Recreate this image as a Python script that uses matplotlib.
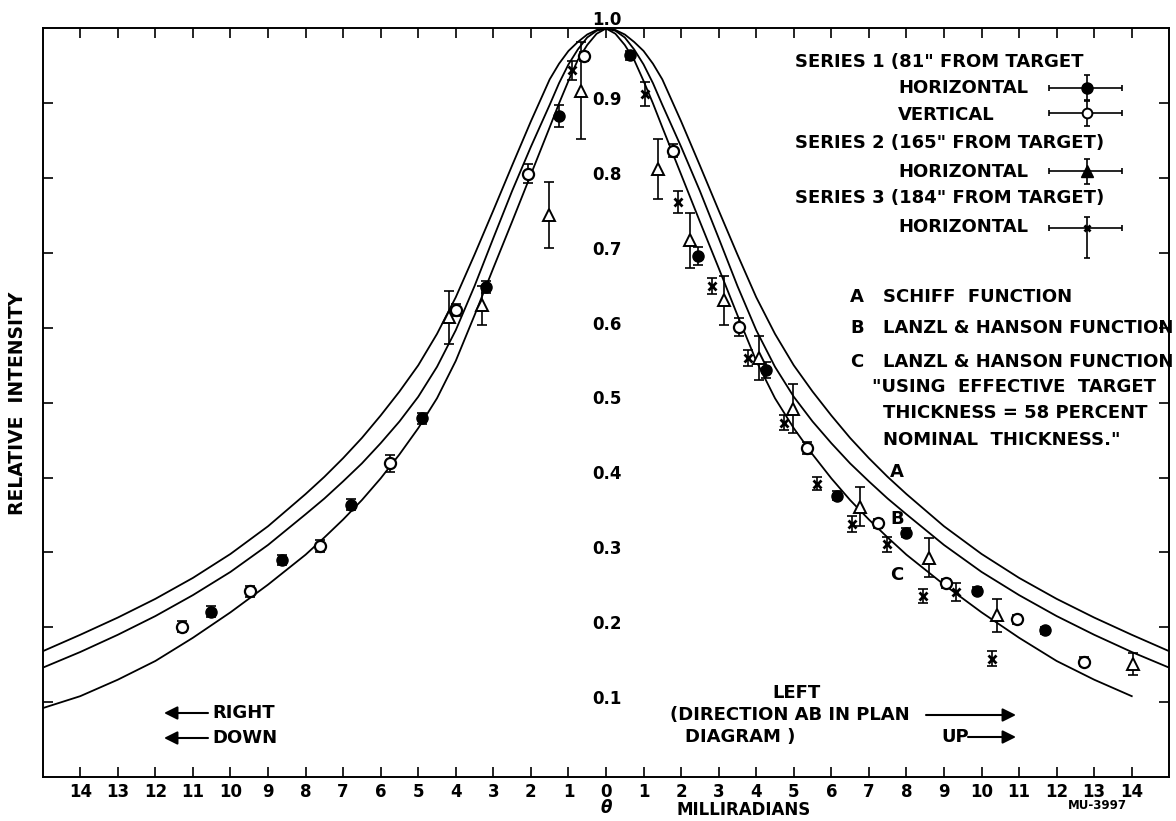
import matplotlib
matplotlib.use("Agg")
import matplotlib.pyplot as plt

# ---------------- data ----------------
# theoretical curves, symmetric in theta (|theta| in milliradians)
curve_t = [0, 0.25, 0.5, 0.75, 1, 1.25, 1.5, 2, 2.5, 3, 3.5, 4, 4.5, 5, 5.5, 6,
           6.5, 7, 7.5, 8, 9, 10, 11, 12, 13, 14, 15]
curve_a = [1.0, 0.998, 0.992, 0.982, 0.97, 0.953, 0.932, 0.876, 0.817, 0.757,
           0.698, 0.641, 0.592, 0.55, 0.515, 0.483, 0.453, 0.426, 0.401, 0.378, 0.335,
           0.298, 0.266, 0.238, 0.213, 0.19, 0.168]
curve_b = [1.0, 0.997, 0.988, 0.972, 0.952, 0.927, 0.898, 0.842, 0.783, 0.72,
           0.656, 0.597, 0.548, 0.508, 0.475, 0.446, 0.419, 0.395, 0.372, 0.351, 0.31,
           0.274, 0.243, 0.215, 0.19, 0.167, 0.146]
curve_c = [1.0, 0.993, 0.978, 0.958, 0.93, 0.9, 0.868, 0.805, 0.742, 0.68,
           0.617, 0.556, 0.506, 0.466, 0.431, 0.399, 0.37, 0.344, 0.32, 0.297, 0.257,
           0.22, 0.186, 0.155, 0.13, 0.108, 0.092]
curve_c_right_end = 14

# Series 1 horizontal (filled circles)
s1h_x = [-10.51, -8.63, -6.80, -4.91, -3.19, -1.25, 0.63, 2.45, 4.27, 6.15, 8.0, 9.87, 11.69]
s1h_y = [0.221, 0.290, 0.364, 0.479, 0.655, 0.883, 0.964, 0.696, 0.544, 0.376, 0.326, 0.249, 0.196]
s1h_e = [0.007, 0.007, 0.007, 0.007, 0.008, 0.015, 0.006, 0.012, 0.011, 0.006, 0.006, 0.005, 0.005]

# Series 1 vertical (open circles)
s1v_x = [-11.30, -9.47, -7.61, -5.75, -3.99, -2.09, -0.59, 1.79, 3.53, 5.35, 7.24, 9.06, 10.95, 12.73]
s1v_y = [0.201, 0.248, 0.308, 0.419, 0.624, 0.806, 0.963, 0.837, 0.601, 0.439, 0.339, 0.259, 0.211, 0.154]
s1v_e = [0.007, 0.007, 0.008, 0.011, 0.008, 0.013, 0.006, 0.009, 0.012, 0.008, 0.006, 0.006, 0.006, 0.006]

# Series 2 horizontal (triangles)
s2_x = [-4.19, -3.29, -1.51, -0.67, 1.39, 2.24, 3.13, 4.07, 4.98, 6.76, 8.59, 10.42, 14.03]
s2_y = [0.614, 0.630, 0.751, 0.917, 0.812, 0.717, 0.637, 0.560, 0.492, 0.361, 0.293, 0.216, 0.151]
s2_e = [0.035, 0.026, 0.044, 0.065, 0.040, 0.037, 0.033, 0.029, 0.033, 0.026, 0.026, 0.022, 0.015]

# Series 3 horizontal (crosses)
s3_x = [-0.90, 1.05, 1.93, 2.82, 3.78, 4.75, 5.63, 6.54, 7.47, 8.43, 9.31, 10.27]
s3_y = [0.944, 0.912, 0.768, 0.656, 0.560, 0.473, 0.392, 0.338, 0.311, 0.242, 0.247, 0.158]
s3_e = [0.013, 0.016, 0.015, 0.011, 0.011, 0.010, 0.009, 0.011, 0.010, 0.009, 0.012, 0.010]

x_ticks = list(range(-14, 15))
y_ticks = [0.1, 0.2, 0.3, 0.4, 0.5, 0.6, 0.7, 0.8, 0.9]
y_tick_labels = ["0.1", "0.2", "0.3", "0.4", "0.5", "0.6", "0.7", "0.8", "0.9"]

# ---------------- figure ----------------
W, H = 1176, 821
fig = plt.figure(figsize=(W / 100, H / 100), dpi=100)
L, R, T, B = 42.7, 1169.3, 28.5, 777.0
ax = fig.add_axes([L / W, 1 - B / H, (R - L) / W, (B - T) / H])
ax.set_xlim(-15, 15)
ax.set_ylim(0, 1)
for s in ax.spines.values():
    s.set_linewidth(1.4)

FONT = dict(family="DejaVu Sans", weight="bold", color="black")


def ftext(px, py, s, size=13, ha="left", va="center", **kw):
    d = dict(FONT)
    d.update(kw)
    fig.text(px / W, 1 - py / H, s, fontsize=size, ha=ha, va=va, **d)


# curves
lw_curve = 1.3
for ys in (curve_a, curve_b):
    xs = [-t for t in curve_t[::-1]] + curve_t[1:]
    yy = ys[::-1] + ys[1:]
    ax.plot(xs, yy, color="black", lw=lw_curve, zorder=2)
xs_c = [-t for t in curve_t[::-1]] + [t for t in curve_t[1:] if t <= curve_c_right_end]
yy_c = curve_c[::-1] + [v for t, v in zip(curve_t[1:], curve_c[1:]) if t <= curve_c_right_end]
ax.plot(xs_c, yy_c, color="black", lw=lw_curve, zorder=2)

eb = dict(fmt="none", ecolor="black", elinewidth=1.2, capsize=3.5, capthick=1.2, zorder=3)
ax.errorbar(s1h_x, s1h_y, yerr=s1h_e, **eb)
ax.errorbar(s1v_x, s1v_y, yerr=s1v_e, **eb)
ax.errorbar(s2_x, s2_y, yerr=s2_e, **eb)
ax.errorbar(s3_x, s3_y, yerr=s3_e, **eb)

ax.plot(s1h_x, s1h_y, "o", ms=8, mfc="black", mec="black", zorder=4)
ax.plot(s1v_x, s1v_y, "o", ms=8, mfc="white", mec="black", mew=1.6, zorder=4)
ax.plot(s2_x, s2_y, "^", ms=9, mfc="white", mec="black", mew=1.4, zorder=4)
ax.plot(s3_x, s3_y, "x", ms=6, mec="black", mew=2.0, zorder=4)

# ticks
ax.set_xticks(x_ticks)
ax.set_xticklabels([str(abs(v)) for v in x_ticks])
ax.set_yticks(y_ticks)
ax.set_yticklabels([])
ax.tick_params(direction="in", length=7, width=1.2, top=True, right=True, pad=4)
for lab in ax.get_xticklabels():
    lab.set_fontfamily("DejaVu Sans")
    lab.set_fontweight("bold")
    lab.set_fontsize(12)

# y labels at the centre
for v, s in zip(y_ticks, y_tick_labels):
    ax.text(0.03, v + 0.0045, s, ha="center", va="center", fontsize=12, **FONT)
ax.text(0.03, 1.0 + 0.011, "1.0", ha="center", va="center", fontsize=12, clip_on=False, **FONT)

# legend samples (data coords inside the axes)
leg_x = 12.82
leg_rows = [(0.921, 0.0167, 0.0167, "fill"), (0.887, 0.0167, 0.0167, "open"),
            (0.809, 0.017, 0.017, "tri"), (0.733, 0.040, 0.015, "x")]
for yv, elo, ehi, kind in leg_rows:
    ax.errorbar([leg_x], [yv], xerr=[[1.02], [0.93]], yerr=[[elo], [ehi]], fmt="none",
                ecolor="black", elinewidth=1.2, capsize=2.5, capthick=1.2, zorder=3)
    if kind == "fill":
        ax.plot([leg_x], [yv], "o", ms=8, mfc="black", mec="black", zorder=4)
    elif kind == "open":
        ax.plot([leg_x], [yv], "o", ms=7, mfc="white", mec="black", mew=1.4, zorder=4)
    elif kind == "tri":
        ax.plot([leg_x], [yv], "^", ms=8, mfc="black", mec="black", zorder=4)
    else:
        ax.plot([leg_x], [yv], "x", ms=5, mec="black", mew=2.0, zorder=4)

# legend text
ftext(795, 62, 'SERIES 1 (81" FROM TARGET')
ftext(898, 88, "HORIZONTAL")
ftext(898, 115, "VERTICAL")
ftext(795, 143, 'SERIES 2 (165" FROM TARGET)')
ftext(898, 172, "HORIZONTAL")
ftext(795, 198, 'SERIES 3 (184" FROM TARGET)')
ftext(898, 227, "HORIZONTAL")

ftext(856.7, 297, "A", ha="center")
ftext(883, 297, "SCHIFF  FUNCTION")
ftext(856.7, 328, "B", ha="center")
ftext(883, 328, "LANZL & HANSON FUNCTION")
ftext(856.7, 362, "C", ha="center")
ftext(883, 362, "LANZL & HANSON FUNCTION")
ftext(872, 387, '"USING  EFFECTIVE  TARGET')
ftext(883, 413, "THICKNESS = 58 PERCENT")
ftext(883, 440, 'NOMINAL  THICKNESS."')

# curve labels
ftext(896.8, 472, "A", ha="center")
ftext(896.8, 519, "B", ha="center")
ftext(896.8, 575, "C", ha="center")

# direction notes
ftext(797, 693, "LEFT", ha="center")
ftext(670, 715, "(DIRECTION AB IN PLAN")
ftext(685, 737, "DIAGRAM )")
ftext(941, 737, "UP")
ftext(212, 713, "RIGHT")
ftext(212, 738, "DOWN")

arrow = dict(arrowstyle="-|>", mutation_scale=20, lw=1.5, color="black", shrinkA=0, shrinkB=0)
for (x0, y0, x1, y1) in [(926, 715, 1016, 715), (968, 737, 1016, 737),
                         (208, 713, 164, 713), (208, 738, 164, 738)]:
    ax.annotate("", xy=(x1, H - y1), xytext=(x0, H - y0), xycoords="figure pixels",
                textcoords="figure pixels", arrowprops=arrow, annotation_clip=False)

# axis titles
ftext(18, 403, "RELATIVE  INTENSITY", ha="center", rotation=90, size=13.5)
ftext(606, 808, "θ", ha="center", size=12, style="italic")
ftext(677, 810, "MILLIRADIANS", size=12)
ftext(1097, 805, "MU-3997", ha="center", size=8.5)

fig.savefig("out.png", dpi=100)
